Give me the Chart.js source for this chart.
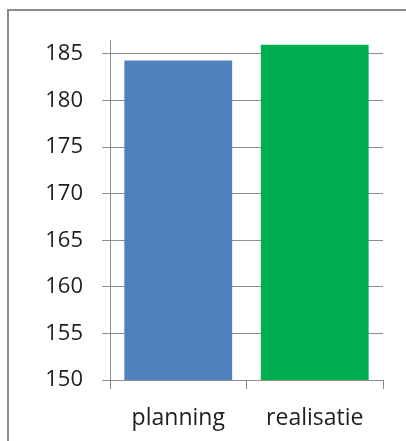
<!DOCTYPE html>
<html>
<head>
<meta charset="utf-8">
<script src="https://cdn.jsdelivr.net/npm/chart.js@4/dist/chart.umd.min.js"></script>
<style>
  body { margin: 0; background: #fff; }
  #wrap { position: relative; width: 406px; height: 441px; }
  #frame { position: absolute; left: 7px; top: 9px; right: -5px; bottom: -5px;
           border-left: 2px solid #8c8c8c; border-top: 2px solid #8c8c8c; }
  canvas { position: absolute; left: 0; top: 0; }
</style>
</head>
<body>
<div id="wrap">
  <div id="frame"></div>
  <canvas id="barChart" width="406" height="441"></canvas>
</div>
<script>
var categories = ["planning", "realisatie"];
var values = [184.3, 186.0];
var barColors = ["#4F81BD", "#00B050"];
var yTicks = [150, 155, 160, 165, 170, 175, 180, 185];
var yMin = 150;
var yMax = 186.5;

$ = function(s) { return document.querySelector(s); };

var ctx = $("#barChart").getContext("2d");
var myBarChart = new Chart(ctx, {
  type: 'bar',
  data: {
    labels: categories,
    datasets: [{
      data: values,
      backgroundColor: barColors,
      borderWidth: 0,
      barPercentage: 0.79,
      categoryPercentage: 1
    }]
  },
  options: {
    responsive: false,
    animation: false,
    layout: { padding: { left: 45, right: 23, top: 40, bottom: 0 } },
    plugins: { legend: { display: false }, tooltip: { enabled: false } },
    scales: {
      x: {
        afterFit: function(axis) { axis.height = 61; },
        grid: { display: true, drawOnChartArea: false, drawTicks: true, tickLength: 9, color: '#8c8c8c', offset: true },
        border: { display: true, color: '#8c8c8c', width: 1 },
        ticks: { color: '#1e1e1e', padding: 16, font: { family: 'Open Sans', size: 23 } }
      },
      y: {
        min: yMin,
        max: yMax,
        afterBuildTicks: function(axis) {
          axis.ticks = yTicks.map(function(v) { return { value: v }; });
        },
        afterFit: function(axis) { axis.width = 65; },
        grid: { color: '#8c8c8c', tickLength: 8, lineWidth: 1 },
        border: { display: true, color: '#8c8c8c', width: 1 },
        ticks: { color: '#1e1e1e', padding: 19, font: { family: 'Open Sans', size: 22 } }
      }
    }
  }
});
</script>
</body>
</html>
